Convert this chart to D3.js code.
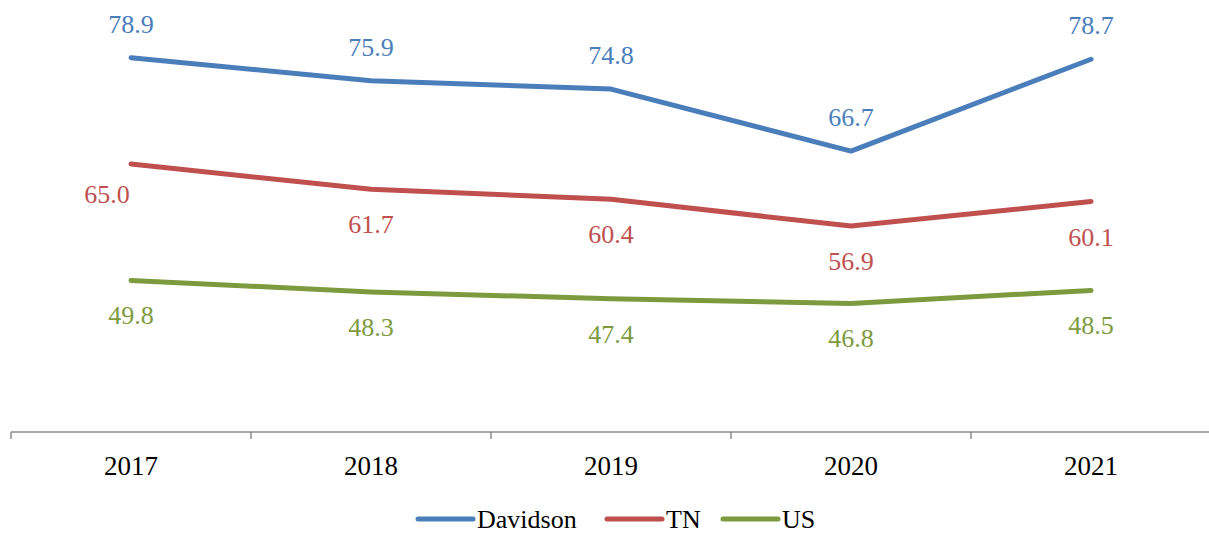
<!DOCTYPE html>
<html>
<head>
<meta charset="utf-8">
<script src="https://cdn.jsdelivr.net/npm/d3@7"></script>
<style>
  body { margin: 0; background: #fff; }
  svg text { font-family: "Liberation Serif", "DejaVu Serif", serif; }
</style>
</head>
<body>
<div id="chart"></div>
<script>
// DATA
const years = ["2017", "2018", "2019", "2020", "2021"]
const davidson = [78.9, 75.9, 74.8, 66.7, 78.7]
const tn = [65.0, 61.7, 60.4, 56.9, 60.1]
const us = [49.8, 48.3, 47.4, 46.8, 48.5]

const series = [
  { name: "Davidson", values: davidson, color: "#4a7ebb", above: true },
  { name: "TN", values: tn, color: "#c0504d", above: false },
  { name: "US", values: us, color: "#7d9b3e", above: false }
]

// The first TN label sits to the left of its point in the original
const labelNudge = { TN: { 0: [-24, -5] } }

const width = 1209, height = 533

const svg = d3.select("#chart").append("svg")
  .attr("width", width).attr("height", height)

// Scales
const x = d3.scaleBand().domain(years).range([11, 1211])
const y = d3.scaleLinear().domain([30, 85]).range([432, 11])
const cx = d => x(d) + x.bandwidth() / 2

// Axis line and ticks at band edges
const axisY = y(30)
svg.append("line")
  .attr("x1", x.range()[0]).attr("x2", width)
  .attr("y1", axisY).attr("y2", axisY)
  .attr("stroke", "#8c8c8c").attr("stroke-width", 1.5)

const edges = years.map(d => x(d)).concat([x.range()[1]])
svg.selectAll(".tick").data(edges).enter().append("line")
  .attr("x1", d => d).attr("x2", d => d)
  .attr("y1", axisY).attr("y2", axisY + 7)
  .attr("stroke", "#8c8c8c").attr("stroke-width", 1.5)

svg.selectAll(".xlabel").data(years).enter().append("text")
  .attr("x", cx).attr("y", axisY + 43)
  .attr("text-anchor", "middle")
  .attr("font-size", 27)
  .attr("fill", "#000")
  .text(d => d)

// Lines
const line = d3.line()
  .x((d, i) => cx(years[i]))
  .y(d => y(d))

series.forEach(s => {
  svg.append("path")
    .attr("d", line(s.values))
    .attr("fill", "none")
    .attr("stroke", s.color)
    .attr("stroke-width", 5)
    .attr("stroke-linecap", "round")
    .attr("stroke-linejoin", "round")

  const nudge = labelNudge[s.name] || {}
  svg.selectAll(null).data(s.values).enter().append("text")
    .attr("x", (d, i) => cx(years[i]) + (nudge[i] ? nudge[i][0] : 0))
    .attr("y", (d, i) => (s.above ? y(d) - 25 : y(d) + 44) + (nudge[i] ? nudge[i][1] : 0))
    .attr("text-anchor", "middle")
    .attr("font-size", 26)
    .attr("fill", s.color)
    .text(d => d.toFixed(1))
})

// Legend
const legendX = [418, 607, 723]
const legendY = 519
series.forEach((s, i) => {
  const g = svg.append("g").attr("transform", `translate(${legendX[i]}, ${legendY})`)
  g.append("line")
    .attr("x1", 0).attr("x2", 55)
    .attr("stroke", s.color).attr("stroke-width", 5)
    .attr("stroke-linecap", "round")
  g.append("text")
    .attr("x", 59).attr("y", 9)
    .attr("font-size", 26)
    .attr("fill", "#000")
    .text(s.name)
})
</script>
</body>
</html>
